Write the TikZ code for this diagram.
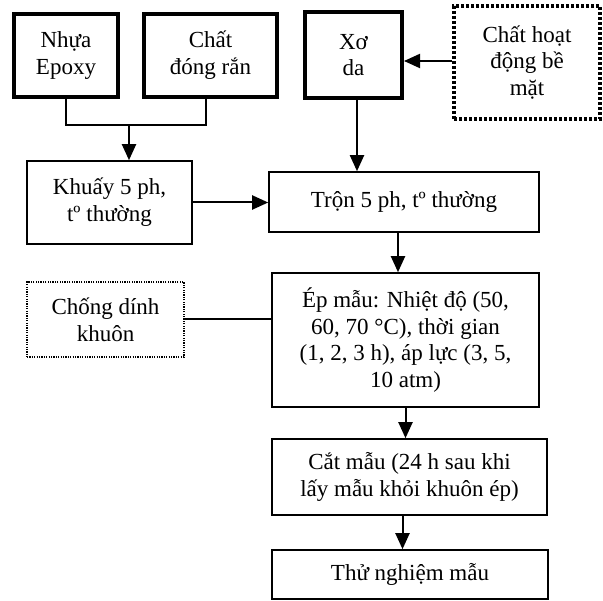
\documentclass[tikz,border=0pt]{standalone}
\usepackage{fontspec}
\setmainfont{Liberation Serif}
\usetikzlibrary{arrows.meta, positioning, calc}

\begin{document}
\begin{tikzpicture}[x=1pt, y=1pt,
    procbox/.style={draw, line width=1.6pt, align=center, inner sep=2pt,
      font=\fontsize{23}{26.7}\selectfont},
    inbox/.style={procbox, line width=4pt},
    addbox/.style={procbox, line width=3.5pt, dash pattern=on 3pt off 2pt},
    thinaddbox/.style={procbox, line width=1.3pt, dash pattern=on 1.2pt off 1.2pt},
    arr/.style={line width=2pt, -{Triangle[length=16pt, width=14pt]}}]
      \useasboundingbox (0,0) rectangle (603,-601);

      % Raw materials
      \node[inbox, minimum width=104, minimum height=83] (nhua) at (66,-55.5) {Nhựa\\Epoxy};
      \node[inbox, minimum width=133, minimum height=83] (chat) at (210.5,-55.5) {Chất\\đóng rắn};
      \node[inbox, minimum width=97, minimum height=86] (xoda) at (353.5,-55) {Xơ\\da};
      \node[addbox, minimum width=146, minimum height=113] (hoatdong) at (527,-62.5) {Chất hoạt\\động bề\\mặt};

      % Mixing
      \node[procbox, minimum width=165, minimum height=83] (khuay) at (109.5,-202.5) {Khuấy 5 ph,\\tº thường};
      \node[procbox, minimum width=270, minimum height=60] (tron) at (404,-202) {Trộn 5 ph, tº thường};

      % Pressing and testing
      \node[thinaddbox, minimum width=157, minimum height=75] (chong) at (105.5,-319.5) {Chống dính\\khuôn};
      \node[procbox, minimum width=267, minimum height=134] (ep) at (405.5,-340) {Ép mẫu: Nhiệt độ (50,\\60, 70 °C), thời gian\\(1, 2, 3 h), áp lực (3, 5,\\10 atm)};
      \node[procbox, minimum width=275, minimum height=76] (cat) at (409.5,-477) {Cắt mẫu (24 h sau khi\\lấy mẫu khỏi khuôn ép)};
      \node[procbox, minimum width=276, minimum height=49] (thu) at (410,-574.5) {Thử nghiệm mẫu};

      % Connectors
      \coordinate (join) at (129,-125);
      \draw[line width=2pt] (nhua.south) |- (join) -| ([xshift=-5pt]chat.south);
      \draw[arr] (join) -- (join |- khuay.north);
      \draw[arr] (khuay.east) -- (khuay.east -| tron.west);
      \draw[arr] ([yshift=1.5pt]hoatdong.west) -- ([yshift=1.5pt]hoatdong.west -| xoda.east);
      \draw[arr] ([xshift=3.5pt]xoda.south) -- ([xshift=3.5pt]xoda.south |- tron.north);
      \draw[arr] ([xshift=-6pt]tron.south) -- ([xshift=-6pt]tron.south |- ep.north);
      \draw[line width=2pt] (chong.east) -- (chong.east -| ep.west);
      \draw[arr] (ep.south) -- (ep.south |- cat.north);
      \draw[arr] ([xshift=-7pt]cat.south) -- ([xshift=-7pt]cat.south |- thu.north);
    \end{tikzpicture}
\end{document}
